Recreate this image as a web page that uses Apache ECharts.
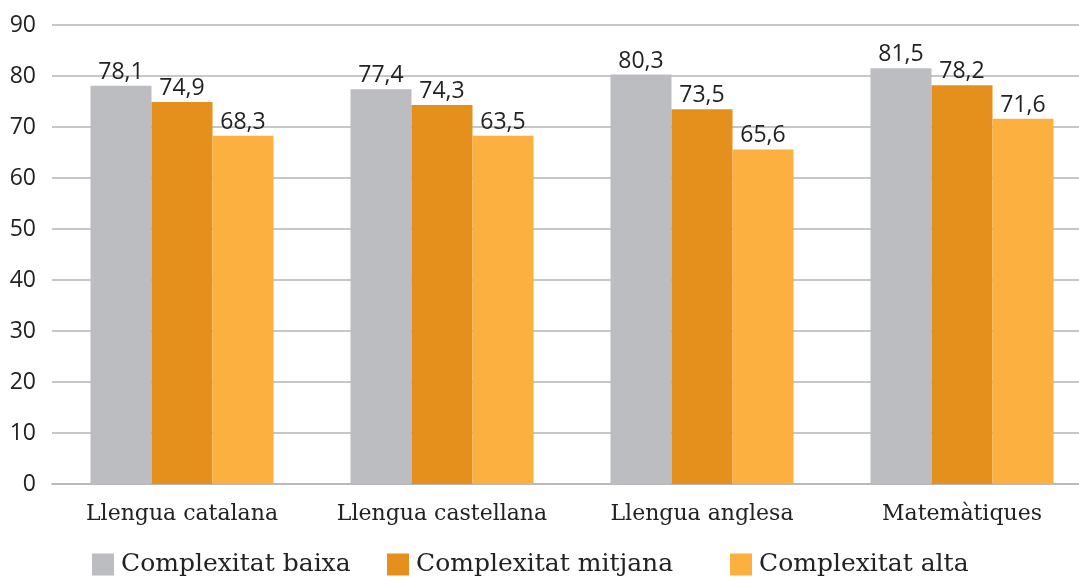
<!DOCTYPE html>
<html>
<head>
<meta charset="utf-8">
<script src="https://cdn.jsdelivr.net/npm/echarts@6/dist/echarts.min.js"></script>
<style>
html, body { margin: 0; padding: 0; background: #fff; }
#chart { width: 1079px; height: 577px; }
</style>
</head>
<body>
<div id="chart"></div>
<script>
// categories and series
const categories = ['Llengua catalana', 'Llengua castellana', 'Llengua anglesa', 'Matemàtiques'];
const seriesNames = ['Complexitat baixa', 'Complexitat mitjana', 'Complexitat alta'];
const baixa = [78.1, 77.4, 80.3, 81.5];
const mitjana = [74.9, 74.3, 73.5, 78.2];
// the original draws the castellana "alta" bar at ~68.3 even though it is labelled 63,5
const alta = [68.3, 68.3, 65.6, 71.6];
const altaLabels = ['68,3', '63,5', '65,6', '71,6'];
const yTicks = [0, 10, 20, 30, 40, 50, 60, 70, 80, 90];

const colors = ['#bcbdc0', '#e58f1c', '#fbb040'];
const sansFont = '"Open Sans", "Noto Sans", sans-serif';
const serifFont = '"DejaVu Serif", serif';
const legendLefts = [92, 387, 730];

function commaFmt(v) {
    return String(v).replace('.', ',');
}

function makeSeries(name, data, color, labels) {
    return {
        name: name,
        type: 'bar',
        data: data,
        barWidth: 61,
        barGap: '0%',
        itemStyle: { color: color },
        label: {
            show: true,
            position: 'top',
            distance: 2,
            color: '#222',
            fontFamily: sansFont,
            fontSize: 23,
            formatter: function (p) {
                return labels ? labels[p.dataIndex] : commaFmt(p.value);
            }
        }
    };
}

// one legend per item so each can sit where the original puts it
function makeLegend(name, left) {
    return {
        data: [name],
        left: left,
        top: 552,
        padding: 0,
        itemWidth: 22,
        itemHeight: 22,
        icon: 'rect',
        selectedMode: false,
        textStyle: {
            fontFamily: serifFont,
            fontSize: 25,
            color: '#222',
            padding: [0, 0, 0, 2]
        }
    };
}

const chart = echarts.init(document.getElementById('chart'));
chart.setOption({
    animation: false,
    color: colors,
    grid: {
        left: 52,
        top: 25,
        width: 1040,
        height: 459,
        outerBoundsMode: 'none'
    },
    legend: seriesNames.map(function (n, i) { return makeLegend(n, legendLefts[i]); }),
    xAxis: {
        type: 'category',
        data: categories,
        axisLine: { show: true, lineStyle: { color: '#b5b5b5', width: 1.5 } },
        axisTick: { show: false },
        axisLabel: {
            interval: 0,
            margin: 19,
            fontFamily: serifFont,
            fontSize: 22,
            color: '#222'
        }
    },
    yAxis: {
        type: 'value',
        min: yTicks[0],
        max: yTicks[yTicks.length - 1],
        interval: 10,
        axisLine: { show: false },
        axisTick: { show: false },
        splitLine: { lineStyle: { color: '#b5b5b5', width: 1.5 } },
        axisLabel: {
            margin: 16,
            fontFamily: sansFont,
            fontSize: 23,
            color: '#222'
        }
    },
    series: [
        makeSeries(seriesNames[0], baixa, colors[0]),
        makeSeries(seriesNames[1], mitjana, colors[1]),
        makeSeries(seriesNames[2], alta, colors[2], altaLabels)
    ]
});
</script>
</body>
</html>
